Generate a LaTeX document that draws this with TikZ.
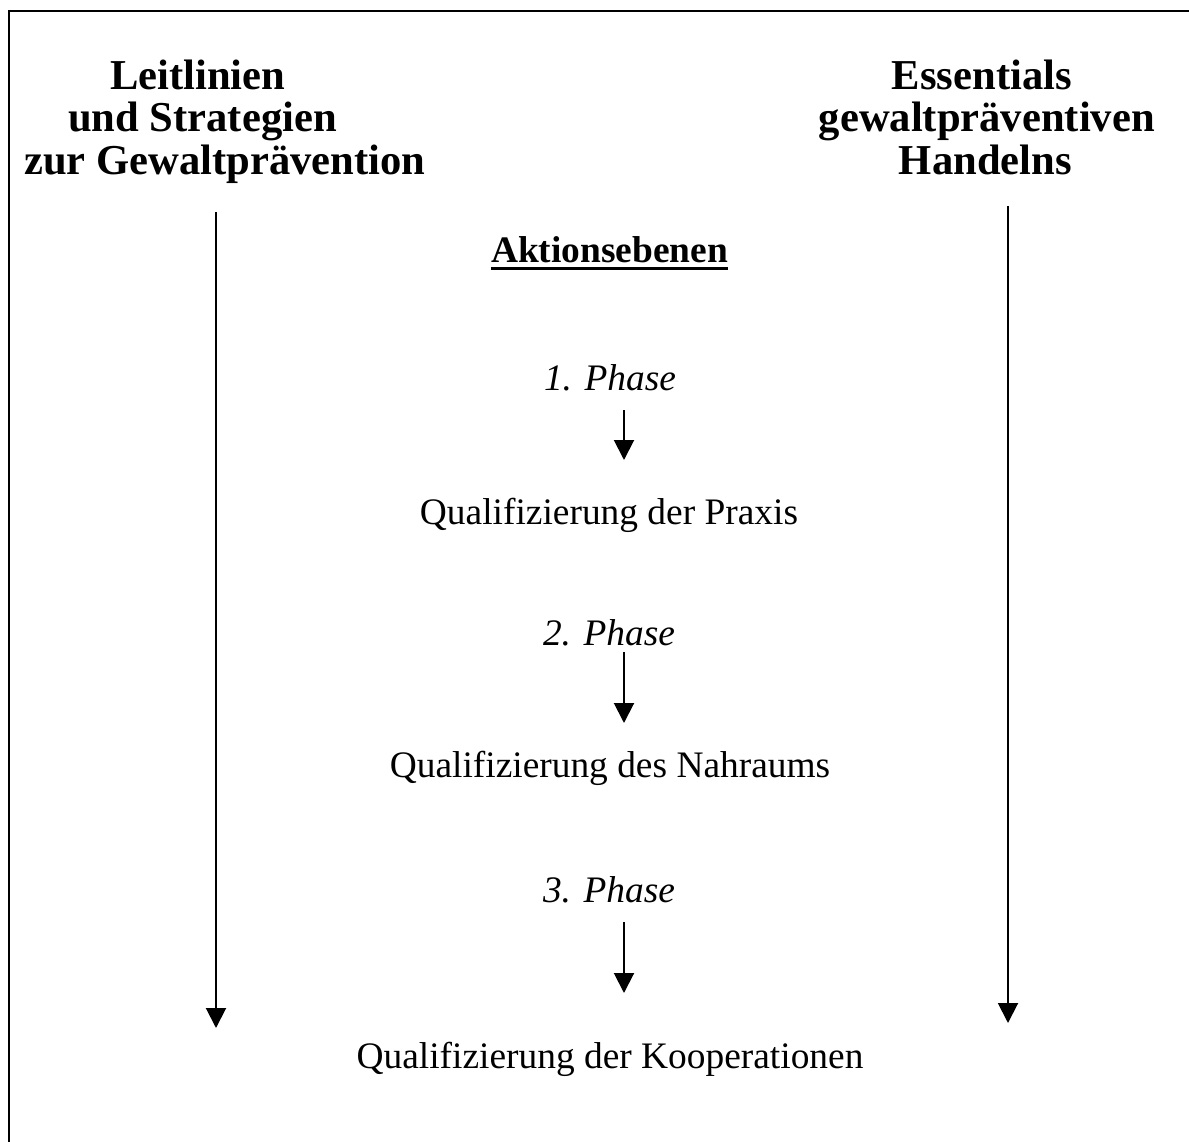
\documentclass[tikz,border=0pt]{standalone}
\usepackage{fontspec}
\setmainfont{Liberation Serif}
\usetikzlibrary{arrows.meta}
\begin{document}
\begin{tikzpicture}[x=1pt,y=-1pt,
  head/.style={inner sep=0pt,font=\fontsize{42.6pt}{45pt}\selectfont\bfseries},
  txt/.style={inner sep=0pt,font=\fontsize{37.4pt}{40pt}\selectfont},
  phase/.style={inner sep=0pt,font=\fontsize{37.4pt}{40pt}\selectfont\itshape},
  arr/.style={line width=2pt,-{Triangle[width=20pt,length=20pt]}},
  frame/.style={line width=2pt,line cap=rect}]
\useasboundingbox (0,0) rectangle (1189,1142);
\draw[frame] (9,1142) -- (9,11) -- (1189,11);
% left header
\node[head,anchor=base west] (lh1) at (110,90) {Leitlinien};
\node[head,anchor=base west] (lh2) at (68,132) {und Strategien};
\node[head,anchor=base west] (lh3) at (24,175) {zur Gewaltprävention};
% right header
\node[head,anchor=base east] (rh1) at (1072,90) {Essentials};
\node[head,anchor=base east] (rh2) at (1155,132) {gewaltpräventiven};
\node[head,anchor=base east] (rh3) at (1072,175) {Handelns};
% center
\node[txt,font=\fontsize{37.4pt}{40pt}\selectfont\bfseries,anchor=base] (akt) at (609.5,262) {Aktionsebenen};
\draw[line width=2.5pt] ([yshift=-6.5pt]akt.base west) -- ([yshift=-6.5pt]akt.base east);
\node[phase,anchor=base] (p1) at (610,390) {1. Phase};
\node[txt,anchor=base] (q1) at (609,524) {Qualifizierung der Praxis};
\node[phase,anchor=base] (p2) at (609,645) {2. Phase};
\node[txt,anchor=base] (q2) at (610,777) {Qualifizierung des Nahraums};
\node[phase,anchor=base] (p3) at (609,902) {3. Phase};
\node[txt,anchor=base] (q3) at (610,1068) {Qualifizierung der Kooperationen};
% phase arrows
\draw[arr] ([xshift=14pt,yshift=-20pt]p1.base) -- ([xshift=15pt,yshift=64pt]q1.base);
\draw[arr] ([xshift=15pt,yshift=-7pt]p2.base) -- ([xshift=14pt,yshift=54pt]q2.base);
\draw[arr] ([xshift=15pt,yshift=-20pt]p3.base) -- ([xshift=14pt,yshift=75pt]q3.base);
% side arrows
\coordinate (ltop) at (216,212);
\coordinate (lend) at (216,1028);
\coordinate (rtop) at (1008,206);
\coordinate (rend) at (1008,1023);
\draw[arr] (ltop) -- (lend);
\draw[arr] (rtop) -- (rend);
\end{tikzpicture}
\end{document}
